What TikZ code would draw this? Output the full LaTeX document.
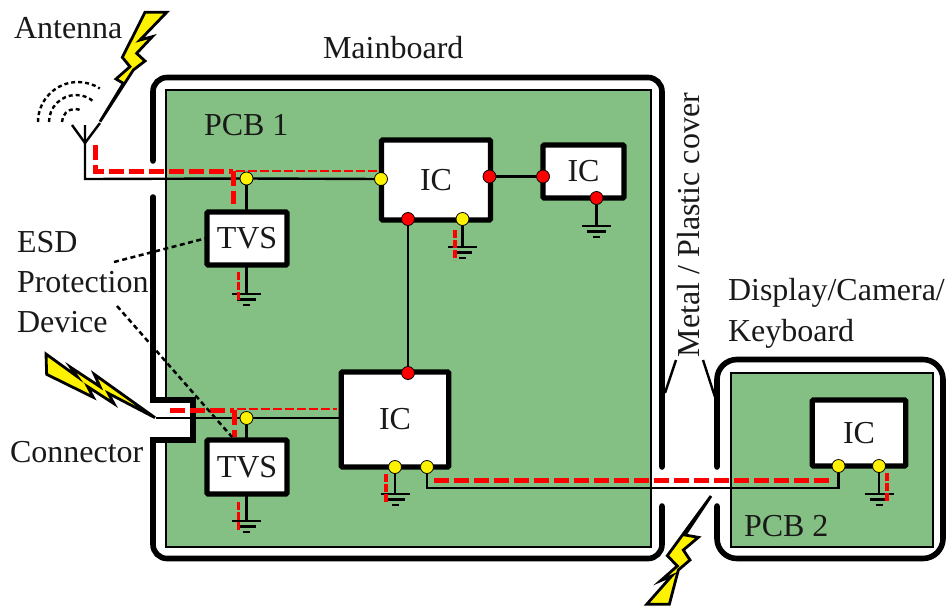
\documentclass[tikz,border=0pt]{standalone}
\usepackage{fontspec}
\setmainfont{Liberation Serif}
\definecolor{pcbgreen}{RGB}{132,192,132}
\newcommand{\gndbars}[1]{\draw[groundbar,shift={(#1)}] (-14.5,0) -- (14.5,0) (-9.5,5.5) -- (9.5,5.5) (-3.5,11) -- (3.5,11);}
\tikzset{
  lab/.style={inner sep=0pt,outer sep=0pt,anchor=base west,text=black!90,font=\fontsize{32}{38}\selectfont},
  chip/.style={draw=black,fill=white,line width=5.2pt,inner sep=0pt,outer sep=0pt,rounded corners=1pt,font=\fontsize{32}{38}\selectfont,text=black!90},
  ydot/.style={circle,draw=black,fill=yellow,line width=0.8pt,minimum size=13pt,inner sep=0pt,outer sep=0pt},
  rdot/.style={circle,draw=black,fill=red,line width=0.8pt,minimum size=13pt,inner sep=0pt,outer sep=0pt},
  wire/.style={draw=black,line width=2.4pt,line join=miter},
  wall/.style={draw=black,line width=5.6pt,line cap=round},
  pcb/.style={draw=black,fill=pcbgreen,line width=2.4pt},
  groundbar/.style={draw=black,line width=2.8pt},
  redthick/.style={draw=red,line width=5pt,dash pattern=on 15pt off 5pt},
  redthin/.style={draw=red,line width=2.4pt,dash pattern=on 8.5pt off 3.5pt},
  redgnd/.style={draw=red,line width=3.2pt,dash pattern=on 8pt off 2pt},
  callout/.style={draw=black,line width=2.5pt,dash pattern=on 5pt off 3.5pt},
  waves/.style={draw=black,line width=2.4pt,dash pattern=on 4pt off 3pt},
  bolt/.style={draw=black,fill=yellow,line width=2.8pt,line join=miter},
}
\begin{document}
\begin{tikzpicture}[x=1pt,y=-1pt]
\useasboundingbox (0,0) rectangle (947,606);
% boards
\path[pcb] (166,90) rectangle (651,547);
\path[pcb] (731,373) rectangle (933,547);
\fill[white] (150,400) rectangle (193,440);
\draw[wall,rounded corners=14pt] (153,161) -- (153,77.5) -- (662,77.5) -- (662,467);
\draw[wall,line join=miter] (153,197) -- (153,400) -- (193,400) -- (193,440) -- (153,440) -- (153,454);
\draw[wall,rounded corners=14pt] (153,454) -- (153,558.5) -- (662,558.5) -- (662,506);
\draw[wall,rounded corners=20pt] (717,467) -- (717,359.5) -- (943,359.5) -- (943,558.5) -- (717,558.5) -- (717,506);
% chips
\node[chip,minimum width=109pt,minimum height=80pt] (ic1) at (436,180) {IC};
\node[chip,minimum width=81pt,minimum height=53pt] (ic2) at (583.5,171.5) {IC};
\node[chip,minimum width=107.5pt,minimum height=95pt] (ic3) at (395,419.5) {IC};
\node[chip,minimum width=93.5pt,minimum height=66pt] (ic4) at (859,433) {IC};
\node[chip,minimum width=80pt,minimum height=53pt] (tvs1) at (247,238.5) {TVS};
\node[chip,minimum width=80pt,minimum height=54pt] (tvs2) at (247,467) {TVS};
% contact dots
\node[ydot] (y1) at (246.5,178.5) {};
\node[ydot] (y2) at (381,179) {};
\node[rdot] (r1) at (489.5,176.5) {};
\node[rdot] (r2) at (543,176.5) {};
\node[rdot] (r3) at (408,219) {};
\node[ydot] (y3) at (462.5,219) {};
\node[rdot] (r4) at (596.5,198) {};
\node[rdot] (r5) at (408,373) {};
\node[ydot] (y4) at (246.5,418) {};
\node[ydot] (y5) at (395,467) {};
\node[ydot] (y6) at (427,467) {};
\node[ydot] (y7) at (838.5,466) {};
\node[ydot] (y8) at (879,466) {};
% free ends
\coordinate (antbase) at (85,143);
\coordinate (antstem) at (85,125);
\coordinate (antl) at (72,125);
\coordinate (antr) at (100,123);
\coordinate (antcorner) at (85,179);
\coordinate (conn) at (156,418);
\coordinate (g1) at (246.5,294);
\coordinate (g2) at (246.5,521);
\coordinate (g3) at (462.5,247);
\coordinate (g4) at (596.5,226);
\coordinate (g5) at (395,494);
\coordinate (g6) at (879,494);
\coordinate (busl) at (427,488);
\coordinate (busr) at (838.5,488);
% wires
\draw[wire] (antl) -- (antbase) -- (antr);
\draw[wire] (antstem) -- (antbase) -- (antcorner) -- (y1);
\draw[wire] (y1) -- (y2);
\draw[wire] (y1) -- (tvs1.north -| y1);
\draw[wire] (r1) -- (r2);
\draw[wire] (r3) -- (r5);
\draw[wire] (conn) -- (y4);
\draw[wire] (y4) -- (ic3.west |- y4);
\draw[wire] (y4) -- (tvs2.north -| y4);
\draw[wire] (y6) -- (busl) -- (busr) -- (y7);
\draw[wire,line width=2.8pt] (tvs1.south -| g1) -- (g1);
\draw[wire,line width=2.8pt] (tvs2.south -| g2) -- (g2);
\draw[wire,line width=2.8pt] (y3) -- (g3);
\draw[wire,line width=2.8pt] (r4) -- (g4);
\draw[wire,line width=2.8pt] (y5) -- (g5);
\draw[wire,line width=2.8pt] (y8) -- (g6);
\gndbars{g1}\gndbars{g2}\gndbars{g3}\gndbars{g4}\gndbars{g5}\gndbars{g6}
% surge paths
\draw[redthick] (95,145) -- (95,171) -- (233,171) (233,171) -- (233,204);
\draw[redthin] (236,171) -- (379,171);
\draw[redthick] (170,410) -- (234,410) (234,410) -- (234,437);
\draw[redthin] (237,409) -- (337,409);
\draw[redthick] (434,480.5) -- (833,480.5);
\draw[redgnd] (238.7,272) -- (238.7,302);
\draw[redgnd] (238.7,502) -- (238.7,531);
\draw[redgnd] (455,230) -- (455,260);
\draw[redgnd] (386,474) -- (386,503);
\draw[redgnd] (887,473) -- (887,502);
% antenna waves
\draw[waves] (38,122) arc[start angle=180,end angle=303,radius=40];
\draw[waves] (49,122) arc[start angle=180,end angle=310,radius=27];
\draw[waves] (62,122) arc[start angle=180,end angle=300,radius=13];
% cover pointers
\coordinate (covl) at (665,393);
\coordinate (covlt) at (676,360);
\coordinate (covr) at (703,360);
\coordinate (covrb) at (715,397);
\draw[wire] (covl) -- (covlt);
\draw[wire] (covr) -- (covrb);
% bolts
\begin{scope}[shift={(90,5)},x=0.3333pt,y=-0.3333pt]
\draw[bolt] (165,22) -- (230,22) -- (150,105) -- (187,95) -- (140,145) -- (165,168) -- (130,195) -- (30,350) -- (100,235) -- (78,222) -- (120,185) -- (97,157) -- cycle;
\end{scope}
\begin{scope}[shift={(40,345)},x=0.3333pt,y=-0.3333pt]
\draw[bolt] (18,27) -- (112,95) -- (92,67) -- (180,125) -- (163,88) -- (345,218) -- (205,145) -- (222,176) -- (143,125) -- (160,157) -- (20,88) -- cycle;
\end{scope}
\begin{scope}[shift={(640,490)},x=0.3333pt,y=-0.3333pt]
\draw[bolt] (213,18) -- (135,135) -- (175,142) -- (130,180) -- (150,210) -- (115,240) -- (88,343) -- (20,343) -- (95,258) -- (62,272) -- (112,228) -- (82,197) -- cycle;
\end{scope}
% callouts
\coordinate (esda) at (114,262);
\coordinate (esdb) at (117,306);
\draw[callout] (esda) -- (tvs1.west |- 0,238);
\draw[callout] (esdb) -- (232,437);
% labels
\node[lab] (tAnt) at (14,38) {Antenna};
\node[lab] (tMain) at (323,58) {Mainboard};
\node[lab] (tP1) at (204,135) {PCB 1};
\node[lab] (tE1) at (17,252) {ESD};
\node[lab] (tE2) at (17,292) {Protection};
\node[lab] (tE3) at (17,332) {Device};
\node[lab] (tCon) at (10,462) {Connector};
\node[lab] (tP2) at (744,536) {PCB 2};
\node[lab] (tD1) at (728,300) {Display/Camera/};
\node[lab] (tD2) at (728,341) {Keyboard};
\node[lab,rotate=90] (tMet) at (699,357) {Metal / Plastic cover};
\end{tikzpicture}
\end{document}
